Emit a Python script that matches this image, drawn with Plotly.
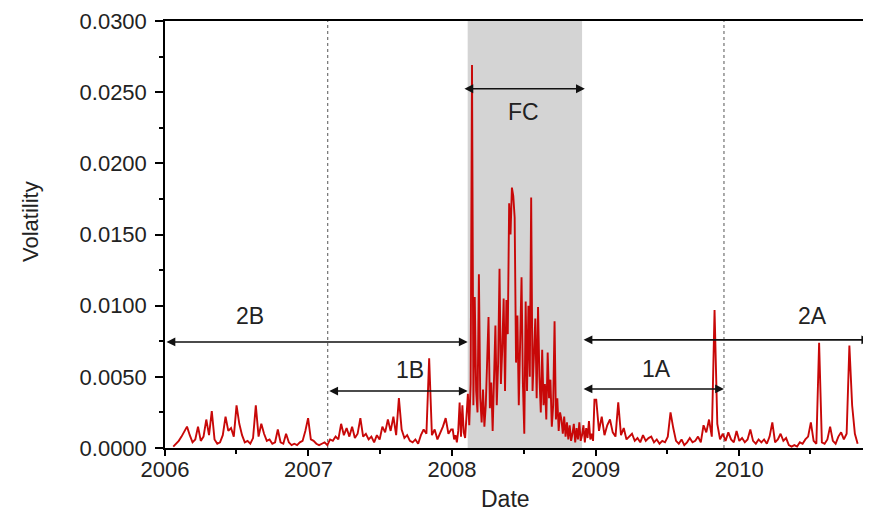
import pandas as pd
import plotly.graph_objects as go

# ---- data ----
vol_2006 = [0.0001,0.0003,0.0005,0.0008,0.0012,0.0015,0.0009,0.0004,0.0006,0.0015,
            0.0005,0.0008,0.0020,0.0009,0.0026,0.0006,0.0003,0.0004,0.0009,0.0022,
            0.0012,0.0014,0.0008,0.0030,0.0017,0.0009,0.0004,0.0005,0.0003,0.0007,
            0.0030,0.0008,0.0017,0.0010,0.0005,0.0006,0.0003,0.0004,0.0013,0.0004,
            0.0003,0.0010,0.0004,0.0002,0.0003,0.0002,0.0004,0.0005,0.0012,0.0021]
vol_2007 = [0.0006,0.0005,0.0003,0.0002,0.0003,0.0004,0.0002,0.0006,0.0005,0.0008,
            0.0006,0.0017,0.0009,0.0014,0.0008,0.0015,0.0007,0.0010,0.0021,0.0008,
            0.0010,0.0006,0.0008,0.0004,0.0009,0.0006,0.0015,0.0011,0.0020,0.0012,
            0.0022,0.0009,0.0035,0.0013,0.0007,0.0009,0.0005,0.0004,0.0006,0.0003,
            0.0009,0.0013,0.0010,0.0063,0.0009,0.0013,0.0006,0.0010,0.0015,0.0021,
            0.0010,0.0013]
vol_2008 = [0.0013,0.0006,0.0009,0.0004,0.0012,0.0032,0.0008,0.0030,0.0011,0.0007,
            0.0025,0.0038,0.0016,0.0045,0.0269,0.0030,0.0106,0.0040,0.0025,0.0122,
            0.0035,0.0018,0.0041,0.0015,0.0030,0.0055,0.0092,0.0028,0.0046,0.0012,
            0.0050,0.0086,0.0030,0.0060,0.0126,0.0045,0.0070,0.0105,0.0040,0.0104,
            0.0080,0.0172,0.0150,0.0183,0.0177,0.0162,0.0060,0.0093,0.0030,0.0070,
            0.0120,0.0045,0.0010,0.0103,0.0040,0.0100,0.0050,0.0176,0.0040,0.0065,
            0.0091,0.0035,0.0099,0.0050,0.0025,0.0069,0.0030,0.0045,0.0020,0.0067,
            0.0035,0.0048,0.0015,0.0030,0.0089,0.0020,0.0035,0.0012,0.0025,0.0020,
            0.0010,0.0022,0.0008,0.0018,0.0006,0.0016,0.0005,0.0010,0.0017,0.0004,
            0.0014,0.0006,0.0018,0.0005,0.0009,0.0016,0.0004,0.0014,0.0007,0.0019,
            0.0006,0.0010,0.0005,0.0034]
vol_2009 = [0.0034,0.0012,0.0022,0.0009,0.0016,0.0020,0.0011,0.0008,0.0032,0.0009,
            0.0014,0.0006,0.0008,0.0010,0.0005,0.0007,0.0004,0.0009,0.0005,0.0007,
            0.0008,0.0004,0.0006,0.0003,0.0005,0.0004,0.0008,0.0025,0.0014,0.0005,
            0.0003,0.0006,0.0002,0.0004,0.0007,0.0004,0.0005,0.0008,0.0004,0.0016,
            0.0011,0.0020,0.0008,0.0097,0.0017,0.0006,0.0010,0.0005,0.0011,0.0006,
            0.0004,0.0012]
vol_2010 = [0.0005,0.0007,0.0004,0.0006,0.0013,0.0005,0.0003,0.0006,
            0.0004,0.0006,0.0003,0.0008,0.0018,0.0004,0.0006,0.0010,0.0005,0.0007,
            0.0002,0.0001,0.0002,0.0001,0.0004,0.0003,0.0006,0.0008,0.0018,0.0005,
            0.0003,0.0074,0.0004,0.0003,0.0006,0.0015,0.0005,0.0003,0.0008,0.0011,
            0.0006,0.0010,0.0072,0.0030,0.0010,0.0003]

# period boundaries and labels
crisis_start = "2008-02-10"
crisis_end = "2008-11-27"
before_1y = "2007-02-19"
after_1y = "2009-11-23"
sample_start = "2006-01-01"
sample_end = "2010-11-30"
period_labels = ["2B", "1B", "FC", "1A", "2A"]

# ---- build series ----
v0 = vol_2006 + vol_2007
d0 = list(pd.date_range("2006-01-22", periods=len(v0), freq="7D"))
d1 = list(pd.date_range("2008-01-03", periods=len(vol_2008), freq="84h"))
v2 = vol_2009 + vol_2010
d2 = list(pd.date_range("2009-01-02", periods=len(v2), freq="7D"))
dates = d0 + d1 + d2
values = v0 + vol_2008 + v2

FONT = "Liberation Sans, Arial, sans-serif"

fig = go.Figure()
fig.add_trace(go.Scatter(x=dates, y=values, mode="lines",
                         line=dict(color="#c80808", width=1.9),
                         hoverinfo="x+y", showlegend=False))

# shaded crisis window
fig.add_shape(type="rect", xref="x", yref="paper", x0=crisis_start, x1=crisis_end,
              y0=0, y1=1, fillcolor="#d4d4d4", line=dict(width=0), layer="below")
# dotted boundaries
for d in [before_1y, after_1y]:
    fig.add_shape(type="line", xref="x", yref="paper", x0=d, x1=d, y0=0, y1=1,
                  line=dict(color="#555555", width=1, dash="dot"), layer="below")

def darrow(x0, x1, y):
    fig.add_annotation(x=x1, y=y, ax=x0, ay=y, xref="x", yref="y", axref="x", ayref="y",
                       text="", showarrow=True, arrowhead=2, arrowside="end+start",
                       arrowsize=1.1, arrowwidth=1.6, arrowcolor="#111111",
                       standoff=0, startstandoff=0)

darrow("2008-01-29", "2008-12-04", 0.02524)   # FC
darrow(sample_start, crisis_start, 0.00745)   # 2B
darrow(before_1y, crisis_start, 0.0040)       # 1B
darrow(crisis_end, sample_end, 0.0076)        # 2A
darrow(crisis_end, after_1y, 0.00415)         # 1A

label_pos = {"2B": ("2006-08-05", 0.00928), "1B": ("2007-09-16", 0.00548),
             "FC": ("2008-07-02", 0.02362), "1A": ("2009-06-04", 0.00555),
             "2A": ("2010-07-05", 0.0093)}
for lab in period_labels:
    x, y = label_pos[lab]
    fig.add_annotation(x=x, y=y, xref="x", yref="y", text=lab, showarrow=False,
                       font=dict(family=FONT, size=23, color="#222222"))

# axis titles as annotations
fig.add_annotation(x=(505 - 165) / 706, y=-51 / 427, xref="paper", yref="paper",
                   text="Date", showarrow=False, xanchor="center", yanchor="middle",
                   font=dict(family=FONT, size=23, color="#222222"))
fig.add_annotation(x=(30 - 165) / 706, y=(448 - 222) / 427, xref="paper", yref="paper",
                   text="Volatility", showarrow=False, textangle=-90,
                   xanchor="center", yanchor="middle",
                   font=dict(family=FONT, size=22, color="#222222"))

# the page body adds an 8px offset, so the figure is sized/margined to compensate
fig.update_layout(
    width=863, height=506,
    margin=dict(l=157, r=0, t=13, b=66, autoexpand=False),
    plot_bgcolor="white", paper_bgcolor="white",
    font=dict(family=FONT, size=21, color="#222222"),
    xaxis=dict(type="date", range=["2006-01-01", "2010-12-02"], automargin=False,
               tickformat="%Y", dtick="M12", tick0="2006-01-01",
               ticks="outside", ticklen=6, tickwidth=1.5, tickcolor="black",
               ticklabelstandoff=-5, tickfont=dict(size=22),
               minor=dict(dtick="M6", ticks="outside", ticklen=4, tickwidth=1.5, tickcolor="black"),
               showline=True, linecolor="black", linewidth=1.5, mirror=True,
               showgrid=False, zeroline=False),
    yaxis=dict(range=[0, 0.03], dtick=0.005, tickformat=".4f", automargin=False,
               ticks="outside", ticklen=8, tickwidth=1.5, tickcolor="black",
               ticklabelstandoff=4, tickfont=dict(size=22),
               minor=dict(dtick=0.0025, ticks="outside", ticklen=4, tickwidth=1.5, tickcolor="black"),
               showline=True, linecolor="black", linewidth=1.5, mirror=False,
               showgrid=False, zeroline=False),
)

fig.write_html("out.html")
